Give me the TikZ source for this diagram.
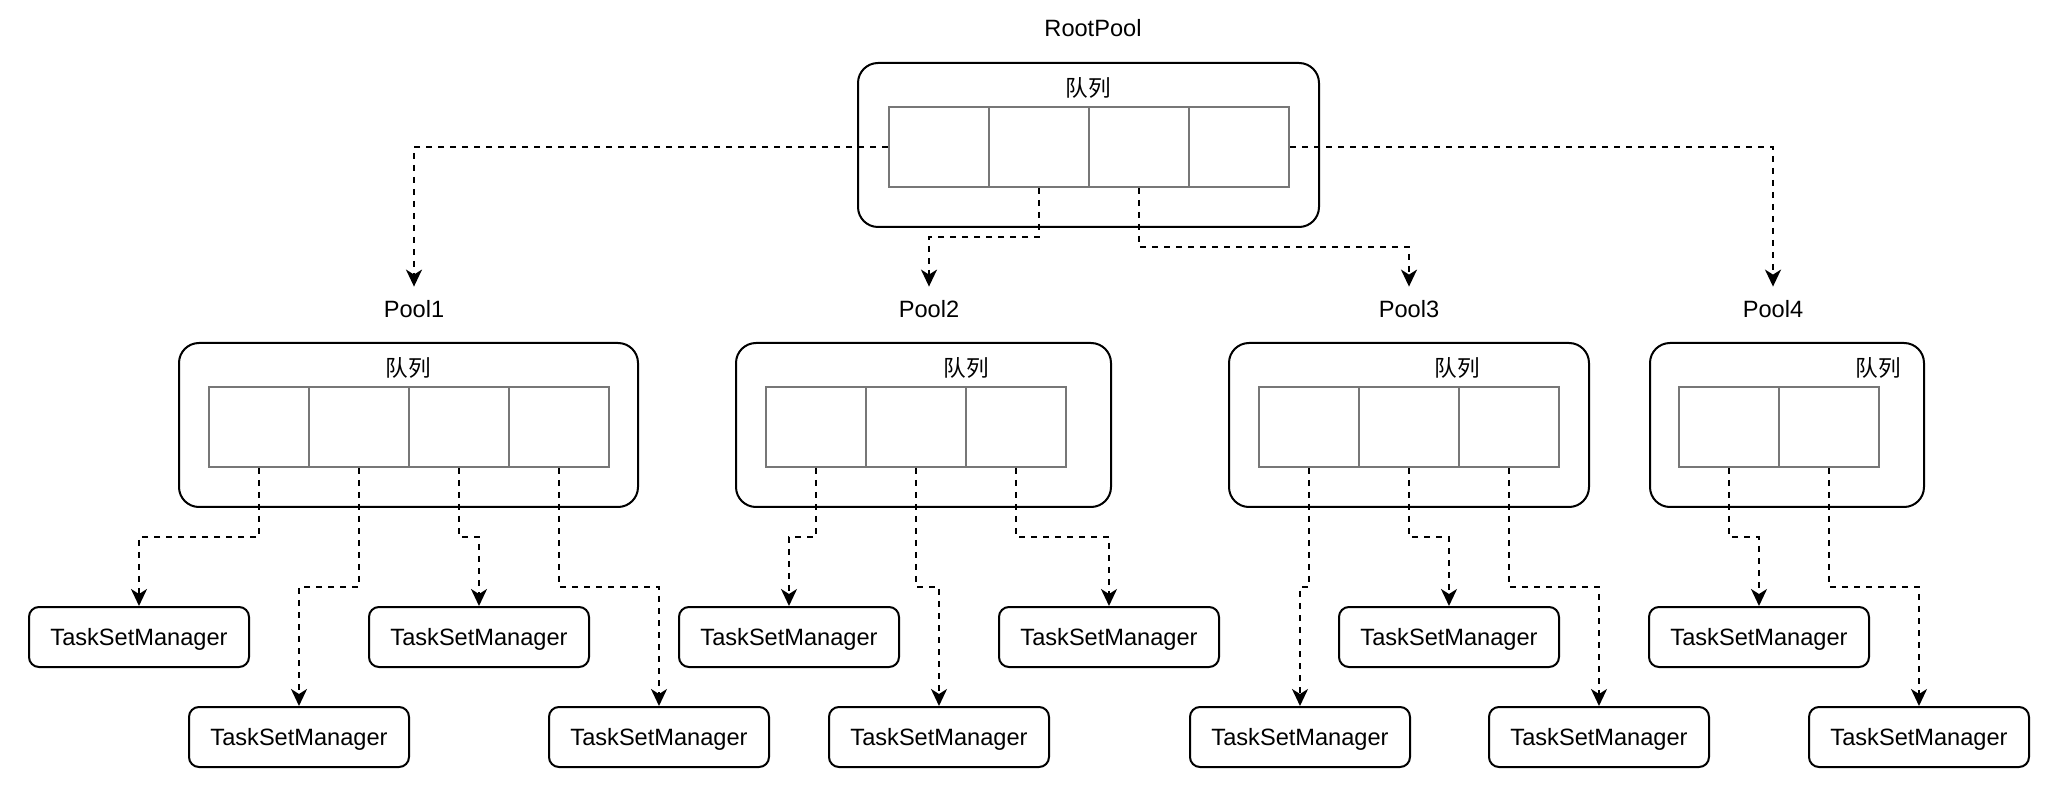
\documentclass[tikz,border=0pt]{standalone}
\usepackage{fontspec}
\setmainfont{Liberation Sans}
\newfontfamily\cjk{Noto Sans CJK SC}
\usetikzlibrary{arrows.meta}
\definecolor{cellgray}{HTML}{777777}
\tikzset{
  poolbox/.style={draw, line width=1pt, rounded corners=10pt, minimum width=#1, minimum height=82pt, inner sep=0pt},
  qcell/.style={draw=cellgray, line width=1pt, minimum width=50pt, minimum height=40pt, inner sep=0pt},
  tsm/.style={draw, line width=1pt, rounded corners=5pt, minimum width=110pt, minimum height=30pt, inner sep=0pt, text depth=0pt, font=\fontsize{11.8pt}{14pt}\selectfont},
  lbl/.style={inner sep=0pt, minimum height=24pt, font=\fontsize{11.8pt}{14pt}\selectfont},
  qlbl/.style={inner sep=0pt, font=\cjk\fontsize{11.3pt}{14pt}\selectfont},
  conn/.style={draw, line width=1pt, dash pattern=on 3pt off 3pt, -{Stealth[length=8.5pt,width=8pt,inset=2.5pt]}}
}
\begin{document}
\begin{tikzpicture}[x=0.5pt,y=-0.5pt]
\useasboundingbox (0,0) rectangle (2068,812);
% Root
\node[lbl] (rootlbl) at (1093,28) {RootPool};
\node[poolbox=230.5pt] (root) at (1088.5,145) {};
\node[qlbl] (rootq) at (1088,88) {队列};
\node[qcell] (rc1) at (939,147) {};
\node[qcell] (rc2) at (1039,147) {};
\node[qcell] (rc3) at (1139,147) {};
\node[qcell] (rc4) at (1239,147) {};
% Pool labels
\node[lbl] (p1lbl) at (414,309) {Pool1};
\node[lbl] (p2lbl) at (929,309) {Pool2};
\node[lbl] (p3lbl) at (1409,309) {Pool3};
\node[lbl] (p4lbl) at (1773,309) {Pool4};
% Pools
\node[poolbox=229.5pt] (p1) at (408.5,425) {};
\node[poolbox=187.5pt] (p2) at (923.5,425) {};
\node[poolbox=180pt] (p3) at (1409,425) {};
\node[poolbox=137pt] (p4) at (1787,425) {};
\node[qlbl] (p1q) at (408,368) {队列};
\node[qlbl] (p2q) at (966,368) {队列};
\node[qlbl] (p3q) at (1457,368) {队列};
\node[qlbl] (p4q) at (1878,368) {队列};
% cells
\node[qcell] (a1) at (259,427) {};
\node[qcell] (a2) at (359,427) {};
\node[qcell] (a3) at (459,427) {};
\node[qcell] (a4) at (559,427) {};
\node[qcell] (b1) at (816,427) {};
\node[qcell] (b2) at (916,427) {};
\node[qcell] (b3) at (1016,427) {};
\node[qcell] (c1) at (1309,427) {};
\node[qcell] (c2) at (1409,427) {};
\node[qcell] (c3) at (1509,427) {};
\node[qcell] (d1) at (1729,427) {};
\node[qcell] (d2) at (1829,427) {};
% TaskSetManagers
\node[tsm] (t11) at (139,637) {TaskSetManager};
\node[tsm] (t12) at (299,737) {TaskSetManager};
\node[tsm] (t13) at (479,637) {TaskSetManager};
\node[tsm] (t14) at (659,737) {TaskSetManager};
\node[tsm] (t21) at (789,637) {TaskSetManager};
\node[tsm] (t22) at (939,737) {TaskSetManager};
\node[tsm] (t23) at (1109,637) {TaskSetManager};
\node[tsm] (t31) at (1300,737) {TaskSetManager};
\node[tsm] (t32) at (1449,637) {TaskSetManager};
\node[tsm] (t33) at (1599,737) {TaskSetManager};
\node[tsm] (t41) at (1759,637) {TaskSetManager};
\node[tsm] (t42) at (1919,737) {TaskSetManager};
% root connectors
\draw[conn] (rc1.west) -| ([yshift=-1pt]p1lbl.north);
\draw[conn] (rc2.south) -- (rc2.south |- 0,237) -| ([yshift=-1pt]p2lbl.north);
\draw[conn] (rc3.south) -- (rc3.south |- 0,247) -| ([yshift=-1pt]p3lbl.north);
\draw[conn] (rc4.east) -| ([yshift=-1pt]p4lbl.north);
% pool connectors
\draw[conn] (a1.south) -- (a1.south |- 0,537) -| (t11.north);
\draw[conn] (a2.south) -- (a2.south |- 0,587) -| (t12.north);
\draw[conn] (a3.south) -- (a3.south |- 0,537) -| (t13.north);
\draw[conn] (a4.south) -- (a4.south |- 0,587) -| (t14.north);
\draw[conn] (b1.south) -- (b1.south |- 0,537) -| (t21.north);
\draw[conn] (b2.south) -- (b2.south |- 0,587) -| (t22.north);
\draw[conn] (b3.south) -- (b3.south |- 0,537) -| (t23.north);
\draw[conn] (c1.south) -- (c1.south |- 0,587) -| (t31.north);
\draw[conn] (c2.south) -- (c2.south |- 0,537) -| (t32.north);
\draw[conn] (c3.south) -- (c3.south |- 0,587) -| (t33.north);
\draw[conn] (d1.south) -- (d1.south |- 0,537) -| (t41.north);
\draw[conn] (d2.south) -- (d2.south |- 0,587) -| (t42.north);
\end{tikzpicture}
\end{document}
